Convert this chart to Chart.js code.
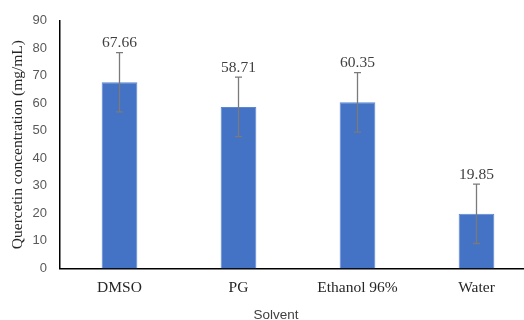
<!DOCTYPE html>
<html>
<head>
<meta charset="utf-8">
<script src="https://cdn.jsdelivr.net/npm/chart.js@4/dist/chart.umd.min.js"></script>
<style>
  html, body { margin: 0; padding: 0; background: #fff; overflow: hidden; }
  #wrap { width: 524px; height: 320px; overflow: hidden; position: relative; }
  canvas { position: absolute; left: 0; top: 0; }
</style>
</head>
<body>
<div id="wrap"><canvas id="myChart" width="540" height="320"></canvas></div>
<script>
const solvents = ['DMSO', 'PG', 'Ethanol 96%', 'Water'];
const concentration = [67.66, 58.71, 60.35, 19.85];
const errors = [10.8, 10.8, 10.8, 10.8];
const yTicks = [0, 10, 20, 30, 40, 50, 60, 70, 80, 90];

const serif = '"Liberation Serif", "Times New Roman", serif';
const sans = '"Liberation Sans", Arial, sans-serif';

// error bars + value labels above them
const errorBars = {
  id: 'errorBars',
  afterDatasetsDraw(chart) {
    const ctx = chart.ctx;
    const y = chart.scales.y;
    const meta = chart.getDatasetMeta(0);
    ctx.save();
    meta.data.forEach((bar, i) => {
      const x = bar.x;
      const top = y.getPixelForValue(concentration[i] + errors[i]);
      const bot = y.getPixelForValue(concentration[i] - errors[i]);
      ctx.strokeStyle = '#7a7a7a';
      ctx.lineWidth = 1.3;
      ctx.beginPath();
      ctx.moveTo(x, top); ctx.lineTo(x, bot);
      ctx.moveTo(x - 3.5, top); ctx.lineTo(x + 3.5, top);
      ctx.moveTo(x - 3.5, bot); ctx.lineTo(x + 3.5, bot);
      ctx.stroke();
      ctx.fillStyle = '#404040';
      ctx.font = '15.5px ' + serif;
      ctx.textAlign = 'center';
      ctx.textBaseline = 'alphabetic';
      ctx.fillText(concentration[i].toFixed(2), x, top - 5.5);
    });
    ctx.restore();
  }
};

// x axis title, drawn where the original sits
const xTitle = {
  id: 'xTitle',
  afterDraw(chart) {
    const ctx = chart.ctx;
    ctx.save();
    ctx.fillStyle = '#404040';
    ctx.font = '13.5px ' + sans;
    ctx.textAlign = 'center';
    ctx.textBaseline = 'middle';
    ctx.fillText('Solvent', 276, 315);
    ctx.restore();
  }
};

new Chart(document.getElementById('myChart'), {
  type: 'bar',
  data: {
    labels: solvents,
    datasets: [{
      data: concentration,
      backgroundColor: '#4472C4',
      borderColor: '#5a86d2',
      borderWidth: 1,
      barPercentage: 0.30,
      categoryPercentage: 1.0
    }]
  },
  options: {
    responsive: false,
    animation: false,
    layout: { padding: { top: 12, right: 4, bottom: 13, left: 9 } },
    plugins: { legend: { display: false }, tooltip: { enabled: false } },
    scales: {
      x: {
        grid: { display: false, drawTicks: false },
        border: { display: true, color: '#000', width: 1.5 },
        ticks: { color: '#262626', font: { family: serif, size: 15.5 }, padding: 10 }
      },
      y: {
        min: 0,
        max: 90,
        afterBuildTicks: (axis) => { axis.ticks = yTicks.map(v => ({ value: v })); },
        afterFit: (axis) => { axis.width = 51; },
        grid: { display: false, drawTicks: false },
        border: { display: true, color: '#000', width: 1.5 },
        ticks: { color: '#595959', font: { family: sans, size: 13 }, padding: 13 },
        title: {
          display: true,
          text: 'Quercetin concentration (mg/mL)',
          color: '#262626',
          font: { family: serif, size: 15.5 },
          padding: { top: 0, bottom: 4 }
        }
      }
    }
  },
  plugins: [errorBars, xTitle]
});
</script>
</body>
</html>
